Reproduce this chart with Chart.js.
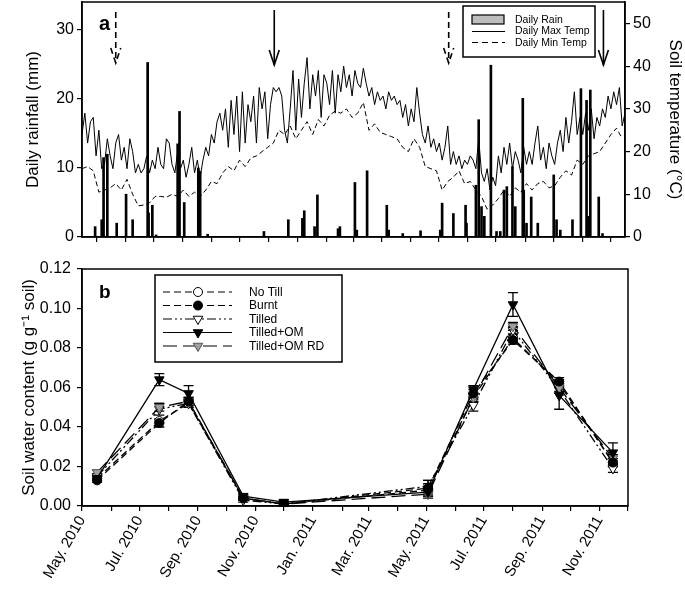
<!DOCTYPE html>
<html><head><meta charset="utf-8">
<script src="https://cdn.jsdelivr.net/npm/chart.js@4.4.0/dist/chart.umd.min.js"></script>
<style>
html,body{margin:0;padding:0;background:#fff;width:685px;height:589px;overflow:hidden}
#c1{position:absolute;left:0;top:0}
#c2{position:absolute;left:0;top:250px}
</style></head><body>
<canvas id="c1" width="685" height="250"></canvas>
<canvas id="c2" width="685" height="339"></canvas>
<script>
// ---------------- DATA ----------------
// x values are days since 1 May 2010
const monthTickDays = [0,31,61,92,123,153,184,214,245,276,304,335,365,396,426,457,488,518,549,579];
const monthTickLabels = ['May. 2010','','Jul. 2010','','Sep. 2010','','Nov. 2010','','Jan. 2011','','Mar. 2011','','May. 2011','','Jul. 2011','','Sep. 2011','','Nov. 2011',''];

// Panel a: daily max soil temperature (°C), read every 3 days
const maxTempStepDays = 3;
const maxTemp = [
 24,29,22,27,28,19,
 25,16,17,23,19,16,22,24,18,21,16,23,20,
 15,17,15,16,19,15,18,16,21,17,16,23,22,17,15,20,16,18,14,17,21,15,18,14,
 18,21,19,24,22,27,29,
 25,30,21,32,24,33,20,34,22,31,27,
 33,22,35,30,34,23,31,35,34,35,33,
 25,22,30,39,25,37,28,36,42,
 30,38,33,39,28,38,36,31,39,29,38,
 34,40,35,38,33,39,36,35,39.5,36,
 33,35,31,34,32,33,30,34,32,33,31,32,
 28,31,26,30,27,35,29,
 24,22,26,21,23,20,22,
 18,21,26,17,20,
 17,19,16,18,17,19,18,16,23,
 15,13,16,11,14,12,
 19,15,21,17,22,16,20,18,15,21,17,
 20,17,22,26,18,21,16,22,19,17,22,
 25,20,28,22,27,34,24,28,
 24,29,25,30,23,28,26,30,
 28,33,30,34,31,35,26,29
];
// Panel a: daily min soil temperature (°C), read every 6 days
const minTempStepDays = 6;
const minTemp = [
 16,16.5,15.5,10.5,11,11.5,12.5,11,13.5,10,
 7.3,7.5,8,9.5,9.5,9.3,10,9.5,11,9.5,
 10.5,9.5,11,13,12.5,15,16.5,15.5,18,16.5,
 18.5,19,20,21,22,25,24,26,23,25,
 27,24,27.5,26,28.5,29.5,29,30,28,29,
 31.5,25,26.5,24.5,24,23.5,23,21,20,23,
 21,16.5,16,15.5,11,13,14,15.5,12.5,13,
 11,9.5,6.5,7.5,9,11,9.5,11.5,10.5,12.5,
 11,12.5,13,11.5,12,14,15.5,14.5,18,17,
 19,19.5,20,22,24,25.5,23
];
// Panel a: daily rain (mm)
const rainDays = [14,21,23,27,37,47,54,70,71,75,79,102,104,109,124,126,134,194,220,235,237,248,251,273,275,291,293,304,325,327,342,361,382,384,396,409,410,420,423,426,429,436,442,446,450,453,459,462,470,471,474,479,486,503,506,510,523,532,538,540,542,551,555];
const rainMm   = [1.5,2.5,11.5,12,2,6.2,2.5,25.3,3.5,4.6,0.3,13.5,18.2,5,10,9.5,0.4,0.8,2.5,2.7,3.8,1.5,6.1,1.2,1.5,7.9,1,9.6,4.6,1,0.5,0.9,1,4.9,3.4,4.6,2,7.5,17,4.4,3,24.9,0.8,0.8,6.8,7.3,10.2,4.4,20.1,6.8,2,5.8,2,9,2.5,1,2.5,21.5,19.8,3,21.3,5.8,0.5];
const sowingArrowDays  = [36, 391];   // dashed arrows
const harvestArrowDays = [205, 556];  // solid arrows

// Panel b: soil water content (g g-1 soil)
const sampleDays = [16,82,113,171,214,367,415,457,506,563];
const noTill     = [0.014,0.043,0.052,0.004,0.001,0.008,0.055,0.085,0.062,0.022];
const noTillErr  = [0.001,0.001,0.002,0.001,0.001,0.002,0.002,0.002,0.002,0.002];
const burnt      = [0.013,0.042,0.053,0.004,0.001,0.009,0.057,0.084,0.063,0.022];
const burntErr   = [0.001,0.002,0.002,0.001,0.001,0.004,0.002,0.002,0.002,0.002];
const tilled     = [0.015,0.049,0.052,0.003,0.001,0.010,0.051,0.089,0.059,0.019];
const tilledErr  = [0.001,0.003,0.002,0.001,0.001,0.003,0.003,0.002,0.002,0.002];
const tilledOM   = [0.014,0.064,0.057,0.005,0.002,0.007,0.059,0.102,0.056,0.027];
const tilledOMErr= [0.001,0.003,0.004,0.001,0.001,0.002,0.002,0.006,0.007,0.005];
const tilledOMRD = [0.017,0.050,0.053,0.004,0.001,0.006,0.055,0.091,0.060,0.024];
const tilledOMRDErr=[0.001,0.002,0.002,0.001,0.001,0.002,0.002,0.002,0.002,0.002];

// ---------------- RENDER ----------------
const FONT = "'Liberation Sans', Arial, sans-serif";
Chart.defaults.font.family = FONT;
Chart.defaults.color = '#000';

const frame = {
  id:'frame',
  afterDraw(chart){
    const {ctx, chartArea:a} = chart;
    ctx.save(); ctx.strokeStyle='#000'; ctx.lineWidth=1.5;
    ctx.strokeRect(a.left, a.top, a.right-a.left, a.bottom-a.top);
    ctx.restore();
  }
};

function monthTicks(s){ s.ticks = monthTickDays.map(v=>({value:v})); }
function noPad(s){ s.paddingTop=0; s.paddingBottom=0; s.paddingLeft=0; s.paddingRight=0; }

const axisGrid = {drawOnChartArea:false, drawTicks:true, tickLength:5, color:'#000', lineWidth:1.2};

// ----- Panel a -----
const panelA = {
  id:'panelA',
  afterDraw(chart){
    const {ctx, scales:{x}} = chart;
    ctx.save();
    ctx.strokeStyle='#000'; ctx.lineWidth=1.6;
    function arrow(d, dashed, y0, y1){
      const px = x.getPixelForValue(d);
      ctx.setLineDash(dashed?[6,4]:[]);
      ctx.beginPath(); ctx.moveTo(px,y0); ctx.lineTo(px,y1); ctx.stroke();
      ctx.beginPath(); ctx.moveTo(px-5,y1-15); ctx.lineTo(px,y1); ctx.lineTo(px+5,y1-15); ctx.stroke();
    }
    sowingArrowDays.forEach(d=>arrow(d,true,12,63));
    harvestArrowDays.forEach(d=>arrow(d,false,10,65));
    ctx.setLineDash([]);
    // panel letter
    ctx.font = "bold 20px "+FONT; ctx.fillStyle='#000'; ctx.textBaseline='alphabetic';
    ctx.fillText('a', 99, 30);
    // legend
    ctx.lineWidth=1.5; ctx.strokeRect(463,6,132,51);
    ctx.fillStyle='#bdbdbd'; ctx.fillRect(472,15,32,9);
    ctx.lineWidth=1.2; ctx.strokeRect(472,15,32,9);
    ctx.beginPath(); ctx.moveTo(472,31.5); ctx.lineTo(505,31.5); ctx.lineWidth=1; ctx.stroke();
    ctx.setLineDash([6,4]); ctx.beginPath(); ctx.moveTo(472,42.5); ctx.lineTo(505,42.5); ctx.stroke(); ctx.setLineDash([]);
    ctx.fillStyle='#000'; ctx.font = "10.5px "+FONT; ctx.textBaseline='middle';
    ctx.fillText('Daily Rain',515,20);
    ctx.fillText('Daily Max Temp',515,31.5);
    ctx.fillText('Daily Min Temp',515,43);
    ctx.restore();
  }
};

new Chart(document.getElementById('c1'), {
  type:'line',
  data:{datasets:[
    {type:'line', label:'Daily Max Temp', yAxisID:'yT', order:1,
     data:maxTemp.map((v,i)=>({x:i*maxTempStepDays, y:v})),
     borderColor:'#000', borderWidth:1, pointRadius:0, tension:0},
    {type:'line', label:'Daily Min Temp', yAxisID:'yT', order:2,
     data:minTemp.map((v,i)=>({x:i*minTempStepDays, y:v})),
     borderColor:'#000', borderWidth:1, borderDash:[5,3], pointRadius:0, tension:0},
    {type:'bar', label:'Daily Rain', yAxisID:'yR', order:0,
     data:rainDays.map((d,i)=>({x:d, y:rainMm[i]})),
     backgroundColor:'#000', borderWidth:0, barThickness:2}
  ]},
  options:{
    responsive:false, animation:false, events:[],
    layout:{padding:{top:2,left:0,right:0,bottom:0}},
    plugins:{legend:{display:false}, tooltip:{enabled:false}},
    scales:{
      x:{type:'linear', min:0, max:579, offset:false, afterBuildTicks:monthTicks,
         ticks:{display:false}, grid:axisGrid, border:{display:true,color:'#000',width:1.5},
         afterFit(s){ s.height = 13; noPad(s); }},
      yR:{type:'linear', position:'left', min:0, max:34.06,
          ticks:{stepSize:10, includeBounds:false, font:{size:16}, padding:3},
          grid:axisGrid, border:{display:true,color:'#000',width:1.5},
          title:{display:true, text:'Daily rainfall (mm)', font:{size:17}, padding:{top:23,bottom:0}},
          afterFit(s){ s.width = 82; noPad(s); }},
      yT:{type:'linear', position:'right', min:0, max:55.03,
          ticks:{stepSize:10, includeBounds:false, font:{size:16}, padding:3},
          grid:axisGrid, border:{display:true,color:'#000',width:1.5},
          title:{display:true, text:'Soil temperature (°C)', font:{size:17}, padding:{top:0,bottom:0}},
          afterFit(s){ s.width = 60; noPad(s); }}
    }
  },
  plugins:[frame, panelA]
});

// ----- Panel b -----
const seriesB = [
  {label:'No Till', data:noTill, err:noTillErr, dash:[7,4], style:'circle', rot:0, r:4.5, fill:'#fff', stroke:'#000', order:5},
  {label:'Burnt', data:burnt, err:burntErr, dash:[7,4], style:'circle', rot:0, r:4.5, fill:'#000', stroke:'#000', order:1},
  {label:'Tilled', data:tilled, err:tilledErr, dash:[9,3,2,3,2,3], style:'triangle', rot:180, r:5.5, fill:'#fff', stroke:'#000', order:4},
  {label:'Tilled+OM', data:tilledOM, err:tilledOMErr, dash:[], style:'triangle', rot:180, r:5.5, fill:'#000', stroke:'#000', order:2},
  {label:'Tilled+OM RD', data:tilledOMRD, err:tilledOMRDErr, dash:[14,6], style:'triangle', rot:180, r:5.5, fill:'#a0a0a0', stroke:'#555', order:3}
];

const panelB = {
  id:'panelB',
  beforeDatasetsDraw(chart){
    const {ctx, scales:{x,y}} = chart;
    ctx.save(); ctx.strokeStyle='#000'; ctx.lineWidth=1.3; ctx.setLineDash([]);
    seriesB.forEach(s=>{
      s.data.forEach((v,i)=>{
        const px = x.getPixelForValue(sampleDays[i]);
        const yt = y.getPixelForValue(v + s.err[i]);
        const yb = y.getPixelForValue(Math.max(0, v - s.err[i]));
        ctx.beginPath(); ctx.moveTo(px,yt); ctx.lineTo(px,yb);
        ctx.moveTo(px-5,yt); ctx.lineTo(px+5,yt);
        ctx.moveTo(px-5,yb); ctx.lineTo(px+5,yb); ctx.stroke();
      });
    });
    ctx.restore();
  },
  afterDraw(chart){
    const {ctx} = chart;
    ctx.save();
    ctx.font = "bold 19px "+FONT; ctx.fillStyle='#000'; ctx.textBaseline='alphabetic';
    ctx.fillText('b', 99, 48);
    ctx.strokeStyle='#000'; ctx.lineWidth=1.5;
    ctx.fillStyle='#fff'; ctx.fillRect(155,25,187,87);
    ctx.strokeRect(155,25,187,87);
    const rows=[42,55.5,69,82.5,96];
    seriesB.forEach((s,i)=>{
      const yy = rows[i];
      ctx.lineWidth = 1.2; ctx.strokeStyle='#000';
      ctx.setLineDash(s.dash);
      ctx.beginPath(); ctx.moveTo(163,yy); ctx.lineTo(232,yy); ctx.stroke();
      ctx.setLineDash([]);
      ctx.fillStyle = s.fill; ctx.strokeStyle = s.stroke; ctx.lineWidth=1;
      Chart.helpers.drawPoint(ctx, {pointStyle:s.style, rotation:s.rot, radius:s.r, borderWidth:1}, 198, yy);
      ctx.fillStyle='#000'; ctx.font="12px "+FONT; ctx.textBaseline='middle';
      ctx.fillText(s.label, 249, yy+0.5);
    });
    ctx.restore();
  }
};

new Chart(document.getElementById('c2'), {
  type:'line',
  data:{datasets: seriesB.map(s=>({
    label:s.label, order:s.order,
    data:s.data.map((v,i)=>({x:sampleDays[i], y:v})),
    borderColor:'#000', borderWidth:1.3, borderDash:s.dash, tension:0,
    pointStyle:s.style, pointRotation:s.rot, pointRadius:s.r,
    pointBackgroundColor:s.fill, pointBorderColor:s.stroke, pointBorderWidth:1
  }))},
  options:{
    responsive:false, animation:false, events:[],
    layout:{padding:{top:19,left:0,right:57,bottom:0}},
    plugins:{legend:{display:false}, tooltip:{enabled:false}},
    scales:{
      x:{type:'linear', min:0, max:579, offset:false, afterBuildTicks:monthTicks,
         ticks:{autoSkip:false, minRotation:60, maxRotation:60, font:{size:15}, padding:2,
                callback:(v)=>monthTickLabels[monthTickDays.indexOf(v)]},
         grid:axisGrid, border:{display:true,color:'#000',width:1.5},
         afterFit(s){ s.height = 83; noPad(s); }},
      y:{type:'linear', position:'left', min:0, max:0.12,
         ticks:{stepSize:0.02, font:{size:16}, padding:6, callback:v=>v.toFixed(2)},
         grid:axisGrid, border:{display:true,color:'#000',width:1.5},
         title:{display:true, text:'Soil water content (g g⁻¹ soil)', font:{size:17}, padding:{top:19,bottom:0}},
         afterFit(s){ s.width = 82; noPad(s); }}
    }
  },
  plugins:[frame, panelB]
});
</script>
</body></html>
